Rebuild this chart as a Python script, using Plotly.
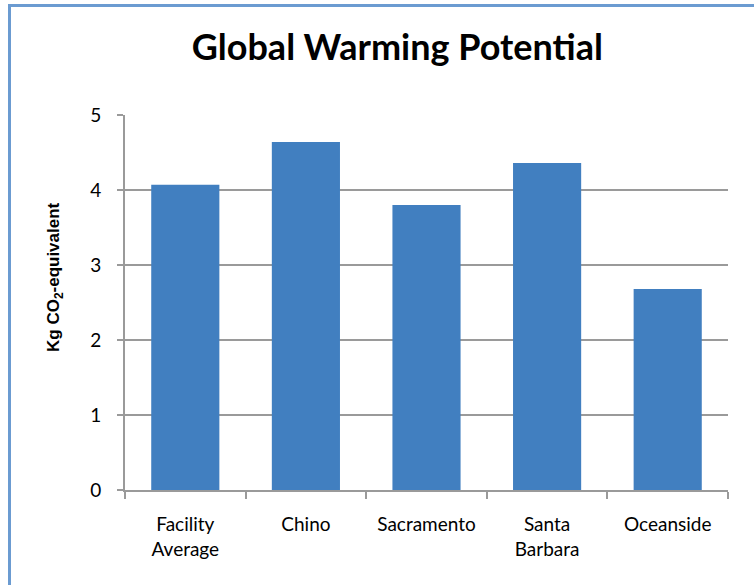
import plotly.graph_objects as go

categories = ["Facility<br>Average", "Chino", "Sacramento", "Santa<br>Barbara", "Oceanside"]
values = [4.07, 4.64, 3.80, 4.36, 2.68]
y_ticks = [0, 1, 2, 3, 4, 5]

W, H = 754, 585
L, R, T, B = 125, 26, 115, 95
pw = W - L - R
ph = H - T - B

def px_x(px):
    return (px - L) / pw

def px_y(py):
    return (H - B - py) / ph

fig = go.Figure()
fig.add_trace(go.Bar(
    x=categories, y=values,
    marker=dict(color="#417fc0", line=dict(width=0)),
    width=0.565,
))

fig.update_layout(
    width=W, height=H,
    margin=dict(l=L, r=R, t=T, b=B),
    paper_bgcolor="white", plot_bgcolor="white",
    showlegend=False,
    font=dict(family="Lato, Carlito, sans-serif", size=18, color="black"),
    title=dict(text="<b>Global Warming Potential</b>", x=0.527, xanchor="center",
               y=1 - 47 / H, yanchor="middle",
               font=dict(family="Lato, sans-serif", size=36, color="black")),
    xaxis=dict(showgrid=False, showline=True, linecolor="#9a9a9a", linewidth=2,
               ticks="outside", ticklen=7, tickcolor="#9a9a9a", tickwidth=2,
               tickson="boundaries", tickfont=dict(size=19), ticklabelstandoff=16),
    yaxis=dict(range=[0, 5], tickvals=y_ticks, showgrid=True, gridcolor="#9a9a9a", gridwidth=2,
               showline=True, linecolor="#9a9a9a", linewidth=2,
               ticks="outside", ticklen=6, tickcolor="#9a9a9a", tickwidth=2,
               tickfont=dict(size=19), ticklabelstandoff=12, zeroline=False),
)

# y-axis title (placed as in the reference, slightly above the plot-area middle)
fig.add_annotation(text="<b>Kg CO<sub>2</sub>-equivalent</b>", textangle=-90,
                   xref="paper", yref="paper", x=px_x(55), y=px_y(277),
                   xanchor="center", yanchor="middle", showarrow=False,
                   font=dict(family="Liberation Sans, Arial, sans-serif", size=17, color="black"))

# outer chart border (left and top edges visible)
fig.add_shape(type="line", xref="paper", yref="paper",
              x0=px_x(9.5), x1=px_x(9.5), y0=px_y(5), y1=px_y(600),
              line=dict(color="#6b9bd1", width=3))
fig.add_shape(type="line", xref="paper", yref="paper",
              x0=px_x(8), x1=px_x(760), y0=px_y(5.5), y1=px_y(5.5),
              line=dict(color="#6b9bd1", width=3))

fig.write_html("out.html")
